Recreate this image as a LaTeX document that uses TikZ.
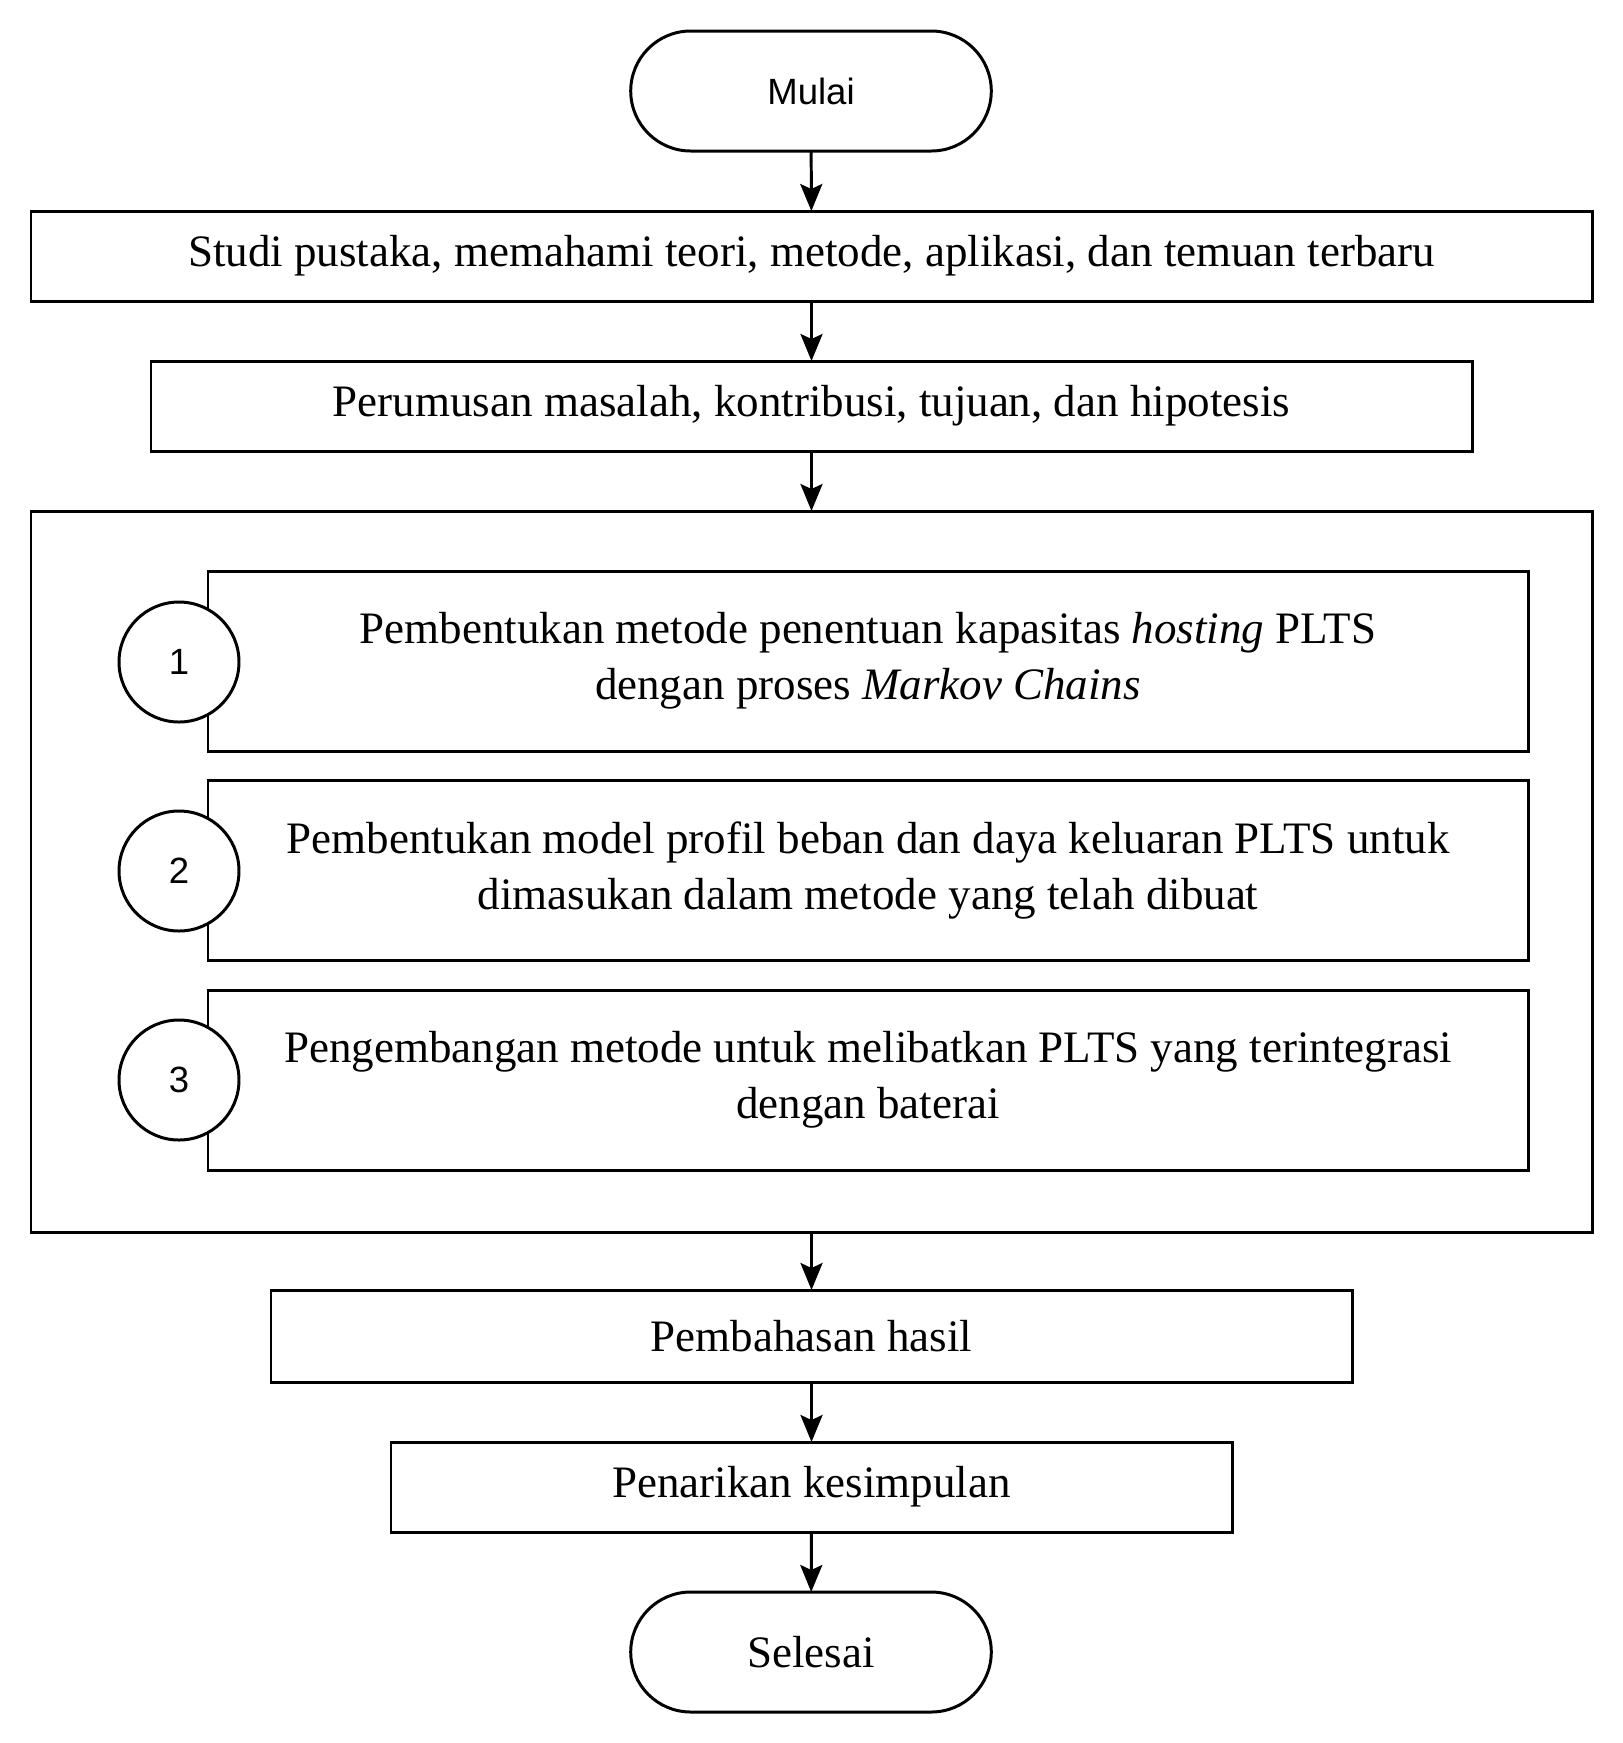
\documentclass[tikz,border=0pt]{standalone}
\usepackage{fontspec}
\setmainfont{Liberation Serif}
\setsansfont{Liberation Sans}
\usetikzlibrary{shapes.misc,arrows.meta}

\begin{document}
\begin{tikzpicture}[
		line width=0.85pt,
		txt/.style={font=\fontsize{12.8}{16}\selectfont},
		stepbox/.style={draw,rectangle,txt,align=center,outer sep=0pt,minimum height=0.9cm},
		terminal/.style={draw,rounded rectangle,minimum width=3.84cm,minimum height=1.2cm,outer sep=0pt},
		numcircle/.style={draw,circle,fill=white,minimum size=1.2cm,inner sep=0pt,font=\sffamily\fontsize{10.4}{12}\selectfont},
		flow/.style={-{Stealth[length=2.7mm,width=2.2mm,inset=0.5mm]}}
	]
	\path[use as bounding box] (0,0) rectangle (16.23,-17.43);

	\node[terminal,font=\sffamily\fontsize{10.4}{12}\selectfont] (mulai) at (8.11,-0.91) {Mulai};
	\node[stepbox,minimum width=15.61cm] (studi) at (8.115,-2.56)
		{Studi pustaka, memahami teori, metode, aplikasi, dan temuan terbaru};
	\node[stepbox,minimum width=13.21cm] (rumus) at (8.115,-4.06)
		{Perumusan masalah, kontribusi, tujuan, dan hipotesis};

	% kotak besar berisi tiga tahap
	\node[draw,rectangle,outer sep=0pt,minimum width=15.61cm,minimum height=7.21cm] (tahap) at (8.115,-8.715) {};
	\node[stepbox,minimum width=13.2cm,minimum height=1.8cm] (tahapa) at (8.68,-6.61)
		{Pembentukan metode penentuan kapasitas \textit{hosting} PLTS\\ dengan proses \textit{Markov Chains}};
	\node[stepbox,minimum width=13.2cm,minimum height=1.8cm] (tahapb) at (8.68,-8.705)
		{Pembentukan model profil beban dan daya keluaran PLTS untuk\\ dimasukan dalam metode yang telah dibuat};
	\node[stepbox,minimum width=13.2cm,minimum height=1.8cm] (tahapc) at (8.68,-10.80)
		{Pengembangan metode untuk melibatkan PLTS yang terintegrasi\\ dengan baterai};
	\node[numcircle] (noa) at (1.79,-6.62) {1};
	\node[numcircle] (nob) at (1.79,-8.71) {2};
	\node[numcircle] (noc) at (1.79,-10.80) {3};

	\node[stepbox,minimum width=10.81cm,minimum height=0.92cm] (bahas) at (8.115,-13.36) {Pembahasan hasil};
	\node[stepbox,minimum width=8.41cm] (tarik) at (8.115,-14.87) {Penarikan kesimpulan};
	\node[terminal,txt] (selesai) at (8.11,-16.52) {Selesai};

	\draw[flow] (mulai) -- (studi);
	\draw[flow] (studi) -- (rumus);
	\draw[flow] (rumus) -- (tahap);
	\draw[flow] (tahap) -- (bahas);
	\draw[flow] (bahas) -- (tarik);
	\draw[flow] (tarik) -- (selesai);
\end{tikzpicture}
\end{document}
